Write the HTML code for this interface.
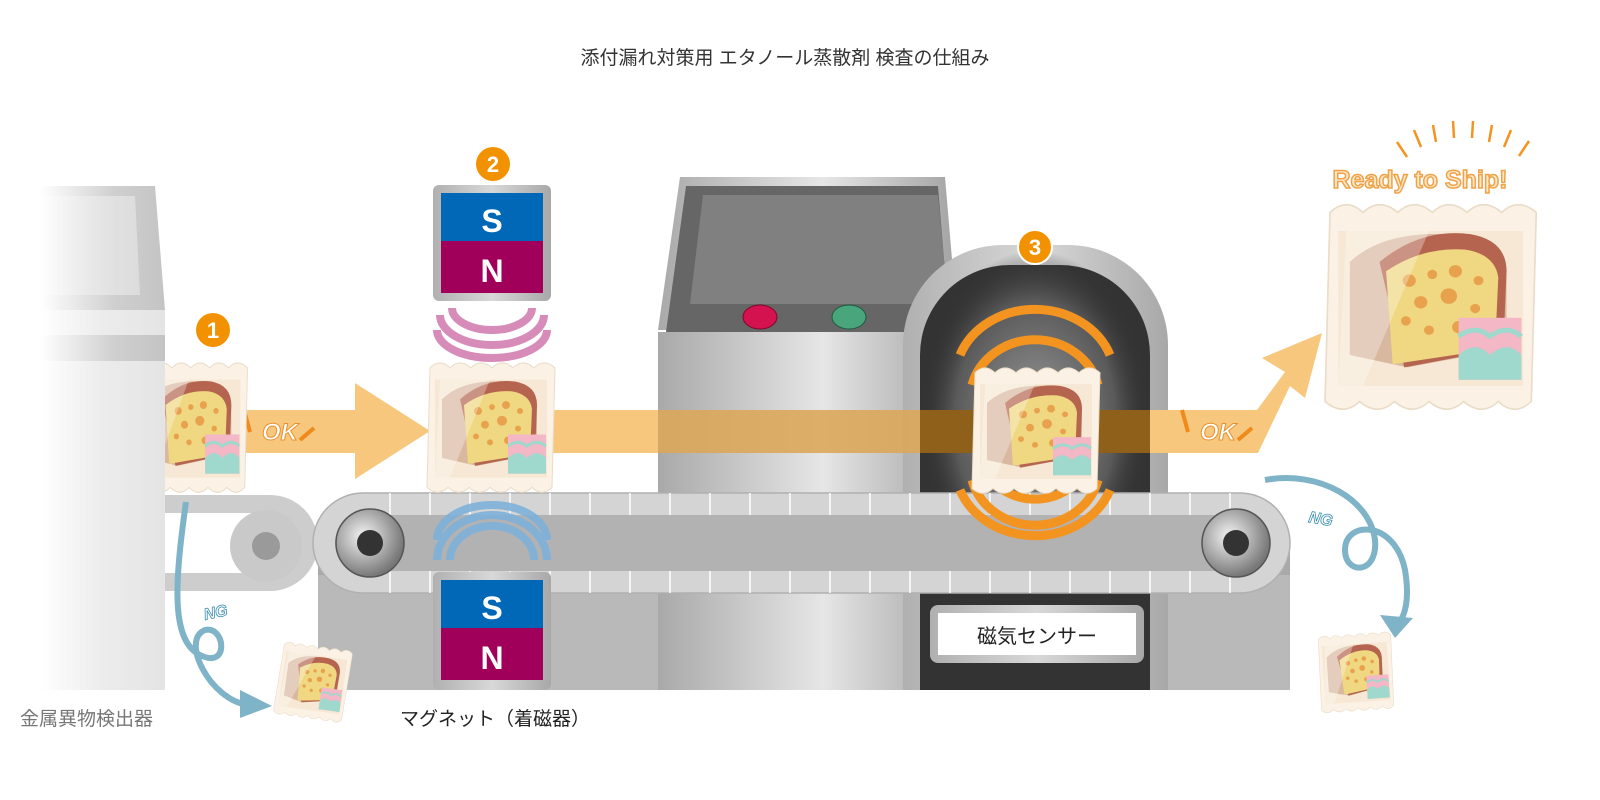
<!DOCTYPE html>
<html><head><meta charset="utf-8"><style>
html,body{margin:0;padding:0;background:#fff;}
svg{display:block;font-family:"Liberation Sans","Noto Sans CJK JP",sans-serif;}
</style></head><body>
<svg width="1600" height="800" viewBox="0 0 1600 800" xmlns="http://www.w3.org/2000/svg">
<defs>
<linearGradient id="fadeL" x1="0" x2="1"><stop offset="0" stop-color="#fff"/><stop offset="0.5" stop-color="#ececec"/><stop offset="1" stop-color="#e4e4e4"/></linearGradient>
<linearGradient id="fadeL2" x1="0" x2="1"><stop offset="0" stop-color="#fff"/><stop offset="0.6" stop-color="#cfcfcf"/><stop offset="1" stop-color="#c4c4c4"/></linearGradient>
<linearGradient id="metal" x1="0" x2="1"><stop offset="0" stop-color="#a9a9a9"/><stop offset="0.55" stop-color="#e6e6e6"/><stop offset="1" stop-color="#a2a2a2"/></linearGradient>
<linearGradient id="metalV" x1="0" x2="1"><stop offset="0" stop-color="#b0b0b0"/><stop offset="0.5" stop-color="#d8d8d8"/><stop offset="1" stop-color="#a8a8a8"/></linearGradient>
<radialGradient id="glow" cx="0.5" cy="0.5" r="0.5"><stop offset="0" stop-color="#9a9a9a"/><stop offset="0.7" stop-color="#5a5a5a"/><stop offset="1" stop-color="#333" stop-opacity="0"/></radialGradient>
<radialGradient id="roll" cx="0.4" cy="0.4" r="0.6"><stop offset="0" stop-color="#f4f4f4"/><stop offset="1" stop-color="#777"/></radialGradient>
<clipPath id="clip1"><rect x="165" y="300" width="200" height="220"/></clipPath>
<g id="pkg">
  <path d="M0,8 q10,-10 20,0 q10,-10 21,0 q10,-10 21,0 q10,-10 21,0 q10,-10 21,0 q10,-10 21,0 L122,130 q-10,10 -20,0 q-10,10 -21,0 q-10,10 -21,0 q-10,10 -21,0 q-10,10 -21,0 q-10,10 -21,0 Z" fill="#fbf1e4" stroke="#e9dcc8" stroke-width="1"/>
  <rect x="5" y="20" width="112" height="100" fill="#f5e6d0" opacity="0.8"/>
  <path d="M12,40 q20,-20 60,-18 q30,2 35,22 l0,52 l-60,12 l-35,-8 Z" fill="#d9b8a0"/>
  <path d="M30,40 q25,-22 55,-18 q22,4 22,24 l-2,50 l-60,12 Z" fill="#b5654f"/>
  <path d="M34,46 q22,-16 48,-14 q18,3 20,18 l-2,46 l-62,10 Z" fill="#f0d781"/>
  <g fill="#e8a24e"><circle cx="48" cy="52" r="4"/><circle cx="62" cy="48" r="3"/><circle cx="76" cy="46" r="4"/><circle cx="90" cy="52" r="3"/><circle cx="55" cy="66" r="4"/><circle cx="72" cy="62" r="5"/><circle cx="88" cy="70" r="3"/><circle cx="60" cy="84" r="3"/><circle cx="78" cy="82" r="4"/><circle cx="46" cy="78" r="3"/></g>
  <path d="M10,20 L60,20 L20,120 L5,120 Z" fill="#fff" opacity="0.3"/>
  <rect x="78" y="76" width="38" height="40" fill="#f3b7c6"/>
  <path d="M78,100 q10,-10 19,0 q10,-10 19,0 L116,116 L78,116 Z" fill="#9fd8cc"/>
  <path d="M78,88 q10,-8 19,0 q10,-8 19,0" stroke="#9fd8cc" stroke-width="3" fill="none"/>
</g>
</defs>

<text x="785" y="64" font-size="19" fill="#333" text-anchor="middle">添付漏れ対策用 エタノール蒸散剤 検査の仕組み</text>

<!-- left machine -->
<path d="M40,186 L155,186 L165,310 L40,310 Z" fill="url(#fadeL2)"/>
<path d="M40,196 L135,196 L140,295 L40,295 Z" fill="url(#fadeL)" opacity="0.7"/>
<rect x="40" y="310" width="125" height="380" fill="url(#fadeL)"/>
<rect x="40" y="335" width="125" height="26" fill="url(#fadeL2)"/>
<path d="M165,495 L270,495 a48,48 0 0 1 0,96 L165,591 Z" fill="#cdcdcd"/>
<rect x="165" y="513" width="110" height="60" fill="#fff"/>
<circle cx="266" cy="546" r="36" fill="#c9c9c9"/>
<circle cx="266" cy="546" r="14" fill="#9a9a9a"/>

<rect x="318" y="545" width="972" height="145" fill="#b9b9b9"/>
<rect x="318" y="545" width="972" height="30" fill="#a9a9a9"/>
<path d="M680,177 L945,177 L958,330 L658,330 Z" fill="url(#metal)"/>
<path d="M686,186 L938,186 L950,332 L666,332 Z" fill="#666"/>
<path d="M703,195 L938,195 L948,304 L690,304 Z" fill="#808080"/>
<ellipse cx="760" cy="317" rx="17" ry="12" fill="#d4124f" stroke="#7a0a2c" stroke-width="1"/>
<ellipse cx="849" cy="317" rx="17" ry="12" fill="#49a57c" stroke="#1f5a40" stroke-width="1"/>
<rect x="658" y="332" width="300" height="358" fill="url(#metal)"/>

<path d="M903,690 L903,345 a100,100 0 0 1 100,-100 L1068,245 a100,100 0 0 1 100,100 L1168,690 Z" fill="url(#metalV)"/>
<path d="M920,690 L920,355 a90,90 0 0 1 90,-90 L1060,265 a90,90 0 0 1 90,90 L1150,690 Z" fill="#333"/>
<ellipse cx="1035" cy="420" rx="115" ry="170" fill="url(#glow)"/>

<rect x="240" y="410" width="120" height="43" fill="#f6c77d"/>
<path d="M355,383 L430,431 L355,479 Z" fill="#f6c77d"/>
<rect x="430" y="410" width="228" height="43" fill="#f6c77d"/>
<rect x="658" y="410" width="262" height="43" fill="#dca75a" opacity="0.9"/>
<rect x="920" y="410" width="230" height="43" fill="#8e6019"/>
<path d="M1150,410 L1257,410 L1285,372 L1262,358 L1322,333 L1305,398 L1290,386 L1258,453 L1150,453 Z" fill="#f6c77d"/>
<text x="262" y="440" font-size="24" font-weight="bold" font-style="italic" fill="#fff" stroke="#e8912c" stroke-width="1">OK</text>
<text x="1200" y="440" font-size="24" font-weight="bold" font-style="italic" fill="#fff" stroke="#e8912c" stroke-width="1">OK</text>
<path d="M244,410 l6,22 M300,440 l14,-12" stroke="#f08a1a" stroke-width="4"/>
<path d="M1182,410 l6,22 M1238,440 l14,-12" stroke="#f08a1a" stroke-width="4"/>

<path d="M363,493 L1240,493 a50,50 0 0 1 0,100 L363,593 a50,50 0 0 1 0,-100 Z" fill="#d4d4d4" stroke="#b0b0b0" stroke-width="1.5"/>
<path d="M363,515 L1240,515 a28,28 0 0 1 0,56 L363,571 a28,28 0 0 1 0,-56 Z" fill="#b2b2b2"/>
<g stroke="#fff" stroke-width="1.5">
<path d="M390,493 v22 M430,493 v22 M470,493 v22 M510,493 v22 M550,493 v22 M590,493 v22 M630,493 v22 M670,493 v22 M710,493 v22 M750,493 v22 M790,493 v22 M830,493 v22 M870,493 v22 M910,493 v22 M950,493 v22 M990,493 v22 M1030,493 v22 M1070,493 v22 M1110,493 v22 M1150,493 v22 M1190,493 v22 M1230,493 v22"/>
<path d="M390,571 v22 M430,571 v22 M470,571 v22 M510,571 v22 M550,571 v22 M590,571 v22 M630,571 v22 M670,571 v22 M710,571 v22 M750,571 v22 M790,571 v22 M830,571 v22 M870,571 v22 M910,571 v22 M950,571 v22 M990,571 v22 M1030,571 v22 M1070,571 v22 M1110,571 v22 M1150,571 v22 M1190,571 v22 M1230,571 v22"/>
</g>
<circle cx="370" cy="543" r="34" fill="url(#roll)" stroke="#555" stroke-width="1.5"/>
<circle cx="370" cy="543" r="13" fill="#333"/>
<circle cx="1236" cy="543" r="34" fill="url(#roll)" stroke="#555" stroke-width="1.5"/>
<circle cx="1236" cy="543" r="13" fill="#333"/>

<rect x="930" y="605" width="214" height="58" rx="8" fill="url(#metalV)"/>
<rect x="938" y="613" width="198" height="42" fill="#fff"/>
<text x="1037" y="643" font-size="20" fill="#222" text-anchor="middle">磁気センサー</text>

<g fill="none" stroke="#f39420" stroke-width="9">
<path d="M960,355 a80,70 0 0 1 150,0"/>
<path d="M972,385 a65,60 0 0 1 126,0"/>
<path d="M985,410 a55,50 0 0 1 100,0"/>
<path d="M960,490 a80,70 0 0 0 150,0"/>
<path d="M972,480 a65,60 0 0 0 126,0"/>
<path d="M985,470 a55,50 0 0 0 100,0"/>
</g>

<rect x="433" y="185" width="118" height="116" rx="6" fill="url(#metalV)"/>
<rect x="441" y="193" width="102" height="48" fill="#0068b6"/>
<rect x="441" y="241" width="102" height="52" fill="#a0005a"/>
<text x="492" y="232" font-size="32" font-weight="bold" fill="#fff" text-anchor="middle">S</text>
<text x="492" y="282" font-size="32" font-weight="bold" fill="#fff" text-anchor="middle">N</text>
<g fill="none" stroke="#d27fb2" stroke-width="8" opacity="0.9">
<path d="M440,315 a52,30 0 0 0 104,0"/>
<path d="M452,308 a40,22 0 0 0 80,0"/>
<path d="M437,330 a55,28 0 0 0 110,0"/>
</g>
<rect x="433" y="572" width="118" height="118" rx="6" fill="url(#metalV)"/>
<rect x="441" y="580" width="102" height="48" fill="#0068b6"/>
<rect x="441" y="628" width="102" height="52" fill="#a0005a"/>
<text x="492" y="619" font-size="32" font-weight="bold" fill="#fff" text-anchor="middle">S</text>
<text x="492" y="669" font-size="32" font-weight="bold" fill="#fff" text-anchor="middle">N</text>
<g fill="none" stroke="#7fb1da" stroke-width="8" opacity="0.9">
<path d="M437,560 a55,45 0 0 1 110,0"/>
<path d="M450,560 a42,34 0 0 1 84,0"/>
<path d="M437,540 a55,35 0 0 1 110,0"/>
</g>

<g clip-path="url(#clip1)"><use href="#pkg" transform="translate(135,360) scale(0.9,0.98)"/></g>
<use href="#pkg" transform="translate(430,360) scale(1.0,0.98)"/>
<use href="#pkg" transform="translate(975,365) scale(1.0,0.95)"/>
<use href="#pkg" transform="translate(1330,200) scale(1.65,1.55)"/>
<use href="#pkg" transform="translate(285,640) rotate(8) scale(0.55,0.55)"/>
<use href="#pkg" transform="translate(1318,635) rotate(-4) scale(0.58,0.58)"/>

<g font-size="22" font-weight="bold" fill="#fff" text-anchor="middle">
<circle cx="213" cy="330" r="17" fill="#f39200"/><text x="213" y="338">1</text>
<circle cx="493" cy="164" r="17" fill="#f39200"/><text x="493" y="172">2</text>
<circle cx="1035" cy="247" r="17" fill="#f39200" stroke="#fff" stroke-width="2"/><text x="1035" y="255">3</text>
</g>

<g stroke="#f39420" stroke-width="2.5">
<path d="M1397,142 l10,15 M1414,130 l7,17 M1433,125 l3,17 M1453,121 l1,17 M1473,121 l-1,17 M1492,125 l-3,17 M1511,130 l-7,17 M1529,141 l-10,15"/>
</g>
<text x="1420" y="188" font-size="25" font-weight="bold" fill="#fbe8c8" stroke="#f0a248" stroke-width="1.5" text-anchor="middle">Ready to Ship!</text>

<g fill="none" stroke="#7fb3c8" stroke-width="6">
<path d="M186,502 C175,580 170,640 200,655 C230,670 225,625 205,630 C180,640 210,700 248,705"/>
<path d="M1265,480 C1320,470 1370,500 1375,540 C1378,575 1345,575 1345,550 C1345,520 1395,520 1405,570 C1410,600 1405,615 1398,625"/>
</g>
<path d="M240,690 L272,706 L240,718 Z" fill="#7fb3c8"/>
<path d="M1380,615 L1413,618 L1395,638 Z" fill="#7fb3c8"/>
<text x="205" y="620" font-size="16" font-weight="bold" font-style="italic" fill="#fff" stroke="#3a8fb0" stroke-width="0.8" transform="rotate(-12 205 620)">NG</text>
<text x="1308" y="522" font-size="16" font-weight="bold" font-style="italic" fill="#fff" stroke="#3a8fb0" stroke-width="0.8" transform="rotate(10 1308 522)">NG</text>

<text x="20" y="725" font-size="19" fill="#777">金属異物検出器</text>
<text x="400" y="725" font-size="19" fill="#222">マグネット（着磁器）</text>
</svg>
</body></html>
